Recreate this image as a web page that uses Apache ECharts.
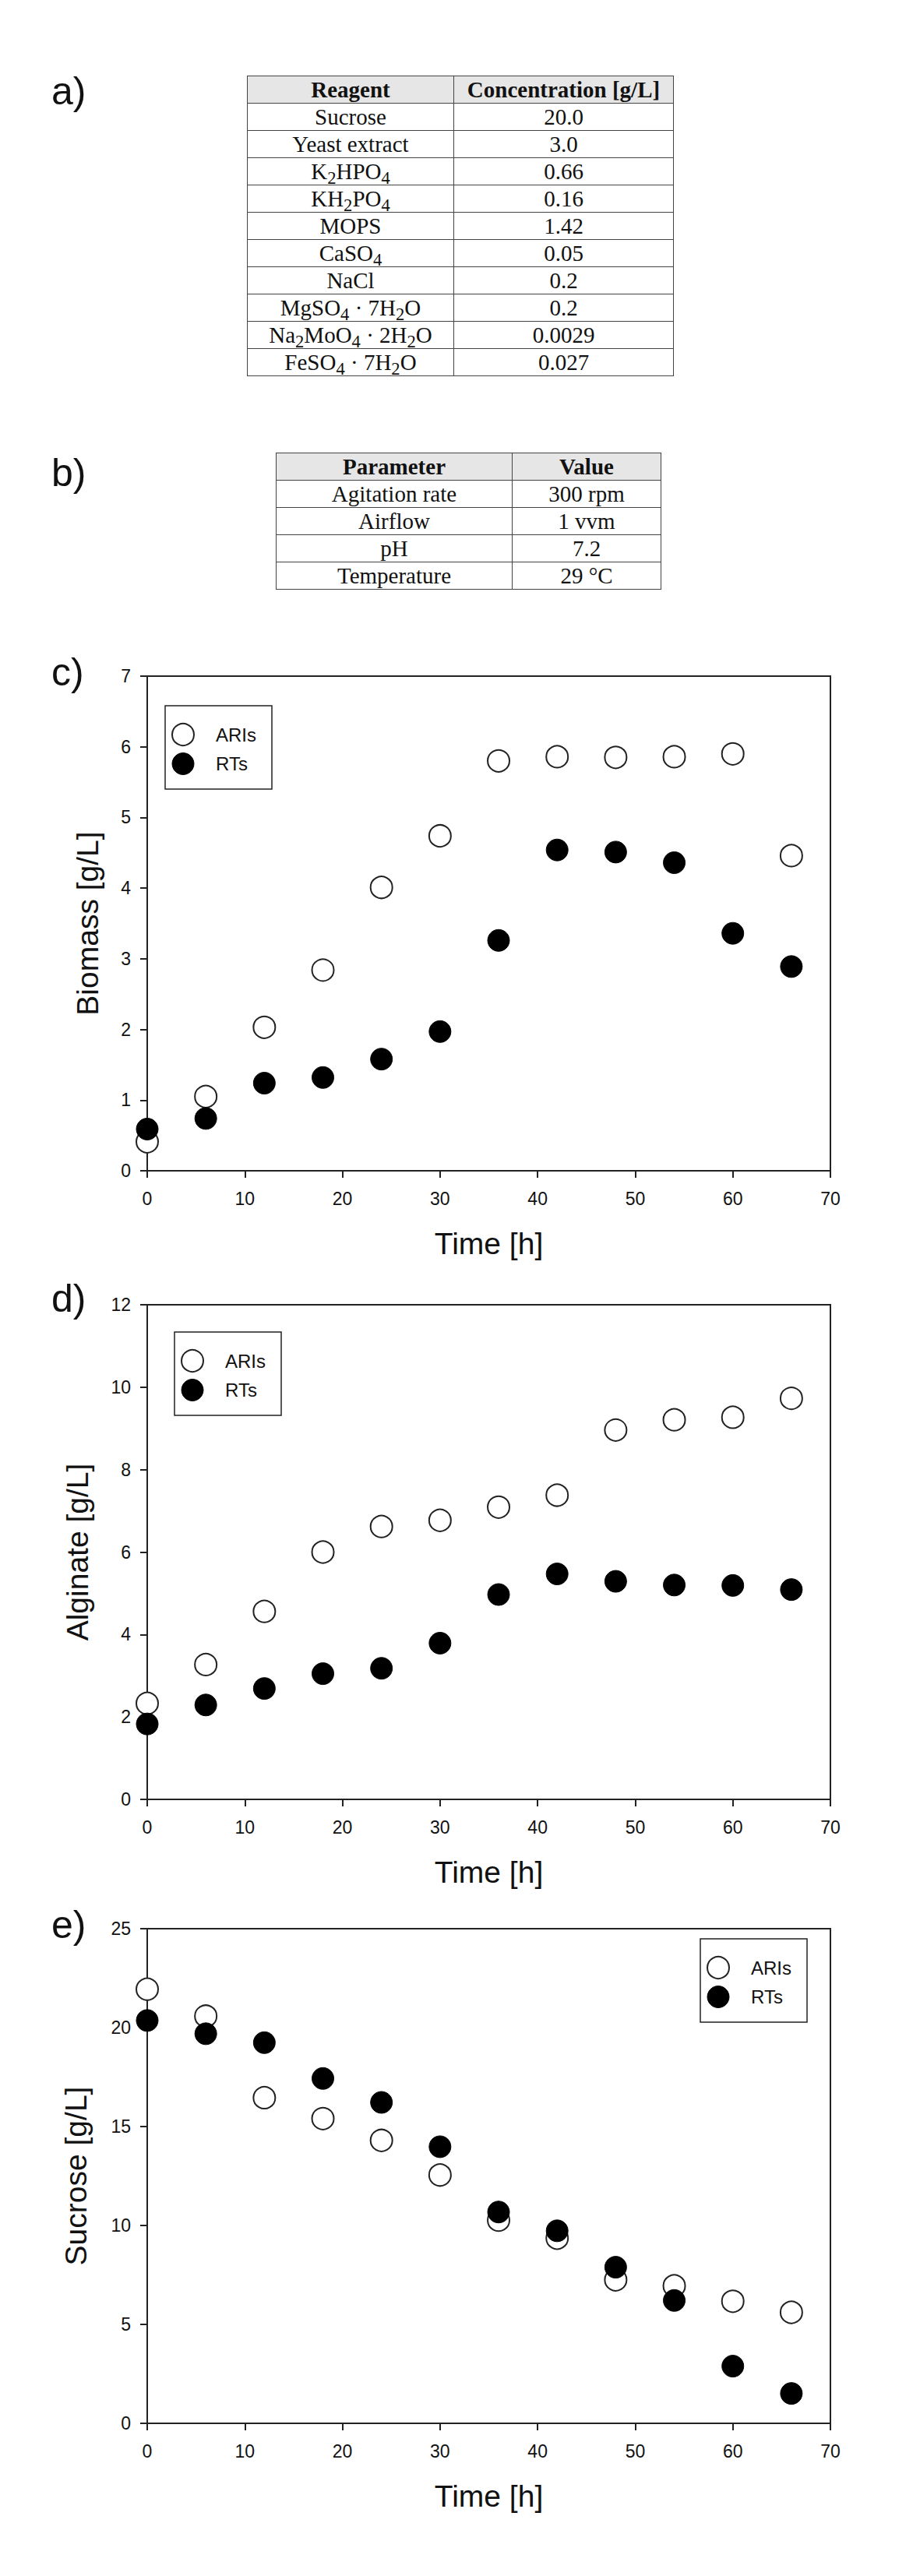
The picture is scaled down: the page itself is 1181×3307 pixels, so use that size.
<!DOCTYPE html>
<html>
<head>
<meta charset="utf-8">
<script src="https://cdn.jsdelivr.net/npm/echarts@6/dist/echarts.min.js"></script>
<style>
  html, body { margin: 0; padding: 0; background: #fff; }
  #chart { position: absolute; left: 0; top: 0; width: 1181px; height: 3307px; }
  table.tab {
    position: absolute; z-index: 2;
    border-collapse: collapse; table-layout: fixed;
    font-family: 'Liberation Serif', 'Times New Roman', serif;
    font-size: 29px; color: #111;
  }
  table.tab td, table.tab th {
    border: 1.5px solid #444; text-align: center; padding: 0;
    height: 34px; line-height: 1;
  }
  table.tab th { background: #e6e6e6; font-weight: bold; }
  table.tab sub { font-size: 0.78em; line-height: 0; vertical-align: -0.28em; }
</style>
</head>
<body>
<div id="chart"></div>
<table class="tab" id="tab-a" style="left:317px; top:97px; width:548px;"></table>
<table class="tab" id="tab-b" style="left:354px; top:581px; width:495px;"></table>
<script>
  // ===== Table data =====
  var reagentHead = ['Reagent', 'Concentration [g/L]'];
  var reagents = ['Sucrose', 'Yeast extract', 'K<sub>2</sub>HPO<sub>4</sub>', 'KH<sub>2</sub>PO<sub>4</sub>', 'MOPS',
    'CaSO<sub>4</sub>', 'NaCl', 'MgSO<sub>4</sub> · 7H<sub>2</sub>O', 'Na<sub>2</sub>MoO<sub>4</sub> · 2H<sub>2</sub>O',
    'FeSO<sub>4</sub> · 7H<sub>2</sub>O'];
  var concentrations = ['20.0', '3.0', '0.66', '0.16', '1.42', '0.05', '0.2', '0.2', '0.0029', '0.027'];

  var paramHead = ['Parameter', 'Value'];
  var params = ['Agitation rate', 'Airflow', 'pH', 'Temperature'];
  var paramValues = ['300 rpm', '1 vvm', '7.2', '29 °C'];

  // ===== Chart data =====
  var hours = [0, 6, 12, 18, 24, 30, 36, 42, 48, 54, 60, 66];
  var biomassARIs = [0.41, 1.05, 2.03, 2.84, 4.01, 4.74, 5.80, 5.86, 5.85, 5.86, 5.90, 4.46];
  var biomassRTs = [0.59, 0.74, 1.24, 1.32, 1.58, 1.97, 3.26, 4.54, 4.51, 4.36, 3.36, 2.89];
  var alginateARIs = [2.33, 3.27, 4.56, 6.00, 6.62, 6.77, 7.09, 7.38, 8.96, 9.21, 9.27, 9.73];
  var alginateRTs = [1.83, 2.29, 2.69, 3.05, 3.18, 3.79, 4.97, 5.47, 5.29, 5.20, 5.19, 5.09];
  var sucroseARIs = [21.94, 20.58, 16.46, 15.40, 14.30, 12.55, 10.27, 9.36, 7.25, 6.95, 6.17, 5.61];
  var sucroseRTs = [20.36, 19.69, 19.24, 17.43, 16.22, 13.98, 10.68, 9.73, 7.89, 6.21, 2.89, 1.51];

  var panelLabels = ['a)', 'b)', 'c)', 'd)', 'e)'];
  var yNames = ['Biomass [g/L]', 'Alginate [g/L]', 'Sucrose [g/L]'];
  var yMax = [7, 12, 25];
  var yStep = [1, 2, 5];

  // ===== Tables =====
  function fillTable(id, head, col1, col2, w1) {
    var html = '<colgroup><col style="width:' + w1 + 'px"><col></colgroup>';
    html += '<tr><th>' + head[0] + '</th><th>' + head[1] + '</th></tr>';
    for (var i = 0; i < col1.length; i++) {
      html += '<tr><td>' + col1[i] + '</td><td>' + col2[i] + '</td></tr>';
    }
    document.getElementById(id).innerHTML = html;
  }
  fillTable('tab-a', reagentHead, reagents, concentrations, 265);
  fillTable('tab-b', paramHead, params, paramValues, 303);

  // ===== Charts =====
  var ink = '#111';
  var font = 'Arial, "Liberation Sans", sans-serif';
  var gridTops = [868, 1675, 2476];
  var nameGaps = [57, 70, 72];
  var legendPos = [[212, 906], [224, 1710], [899, 2489]];
  var seriesData = [[biomassARIs, biomassRTs], [alginateARIs, alginateRTs], [sucroseARIs, sucroseRTs]];

  function pairs(ys) {
    return hours.map(function(h, i) { return [h, ys[i]]; });
  }

  var grids = [], xAxes = [], yAxes = [], series = [], legends = [];
  var ariStyle = { color: '#fff', borderColor: '#222', borderWidth: 2, opacity: 1 };
  var rtStyle = { color: '#000', borderColor: '#000', borderWidth: 1, opacity: 1 };

  for (var g = 0; g < 3; g++) {
    grids.push({ left: 189, top: gridTops[g], width: 877, height: 635, show: true,
      borderColor: '#222', borderWidth: 2, backgroundColor: 'transparent' });
    xAxes.push({
      gridIndex: g, type: 'value', min: 0, max: 70, interval: 10,
      name: 'Time [h]', nameLocation: 'middle', nameGap: 74,
      nameTextStyle: { color: ink, fontSize: 39, fontFamily: font },
      axisLine: { lineStyle: { color: '#222', width: 2 } },
      axisTick: { length: 9, lineStyle: { color: '#222', width: 2 } },
      axisLabel: { color: ink, fontSize: 23, fontFamily: font, margin: 24 },
      splitLine: { show: false }
    });
    yAxes.push({
      gridIndex: g, type: 'value', min: 0, max: yMax[g], interval: yStep[g],
      name: yNames[g], nameLocation: 'middle', nameGap: nameGaps[g],
      nameTextStyle: { color: ink, fontSize: 39, fontFamily: font },
      axisLine: { show: true, lineStyle: { color: '#222', width: 2 } },
      axisTick: { show: true, length: 9, lineStyle: { color: '#222', width: 2 } },
      axisLabel: { color: ink, fontSize: 23, fontFamily: font, margin: 21 },
      splitLine: { show: false }
    });
    series.push({
      name: 'ARIs', type: 'scatter', xAxisIndex: g, yAxisIndex: g,
      symbol: 'circle', symbolSize: 28, itemStyle: ariStyle,
      data: pairs(seriesData[g][0]), z: 2
    });
    series.push({
      name: 'RTs', type: 'scatter', xAxisIndex: g, yAxisIndex: g,
      symbol: 'circle', symbolSize: 28, itemStyle: rtStyle,
      data: pairs(seriesData[g][1]), z: 3
    });
    legends.push({
      orient: 'vertical', left: legendPos[g][0], top: legendPos[g][1],
      padding: [22, 20, 18, 8], itemGap: 8, itemWidth: 74, itemHeight: 28,
      borderColor: '#222', borderWidth: 1.5, selectedMode: false,
      icon: 'circle',
      textStyle: { color: ink, fontSize: 24, fontFamily: font },
      data: [{ name: 'ARIs', itemStyle: ariStyle }, { name: 'RTs', itemStyle: rtStyle }]
    });
  }

  var labelY = [121, 611, 867, 1671, 2475];
  var graphics = panelLabels.map(function(t, i) {
    return { type: 'text', left: 66, top: labelY[i] - 29,
      style: { text: t, fill: ink, font: '50px ' + font } };
  });

  var chart = echarts.init(document.getElementById('chart'), null, { renderer: 'svg' });
  chart.setOption({
    animation: false,
    backgroundColor: '#fff',
    grid: grids,
    xAxis: xAxes,
    yAxis: yAxes,
    legend: legends,
    graphic: graphics,
    series: series
  });
  window.addEventListener('resize', function() { chart.resize(); });
</script>
</body>
</html>
